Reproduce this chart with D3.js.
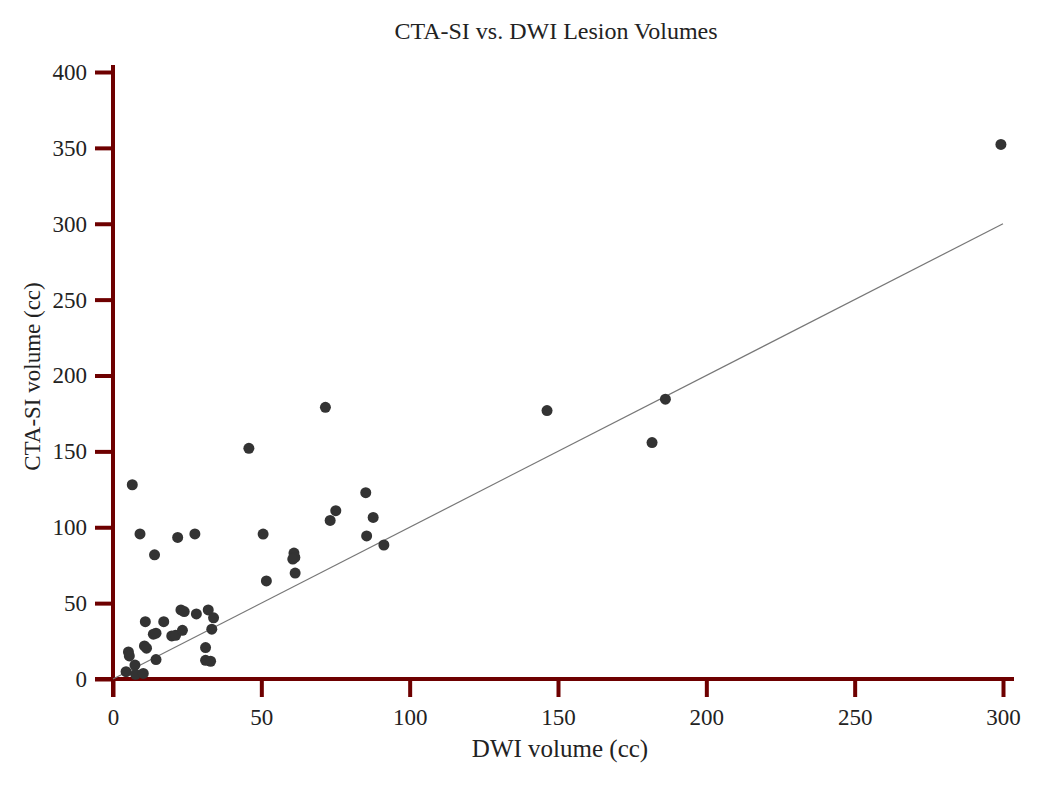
<!DOCTYPE html>
<html>
<head>
<meta charset="utf-8">
<script src="https://cdn.jsdelivr.net/npm/d3@7"></script>
<style>
  body { margin: 0; background: #fff; }
  text { font-family: "Liberation Serif", "Times New Roman", serif; fill: #222; }
</style>
</head>
<body>
<div id="graph"></div>
<script>
const width = 1050;
const height = 788;

// DWI volume (cc)
const dwi = [9.1, 21.8, 27.6, 50.6, 73.2, 85.5, 14.0, 61.0, 61.3, 60.6, 61.4,
  51.7, 22.9, 24.0, 28.1, 32.1, 33.9, 10.9, 17.1, 13.6, 14.5, 19.8, 21.1, 23.4,
  33.3, 31.2, 10.6, 11.3, 5.2, 5.5, 14.5, 31.2, 32.9, 4.4, 7.4, 7.6, 10.2,
  6.5, 45.8, 71.6, 85.2, 75.1, 87.7, 91.3, 299.3, 186.2, 181.7, 146.3];
// CTA-SI volume (cc)
const ctasi = [95.6, 93.3, 95.6, 95.5, 104.5, 94.3, 81.8, 83.0, 80.1, 79.0, 69.8,
  64.6, 45.5, 44.4, 42.9, 45.5, 40.3, 37.8, 37.8, 29.5, 30.2, 28.4, 28.8, 32.1,
  32.8, 20.7, 21.8, 20.3, 17.8, 15.2, 12.8, 12.3, 11.7, 4.8, 9.2, 3.1, 3.7,
  128.0, 152.0, 179.0, 122.8, 110.9, 106.5, 88.3, 352.3, 184.4, 155.8, 176.9];

const x_ticks = [0, 50, 100, 150, 200, 250, 300];
const y_ticks = [0, 50, 100, 150, 200, 250, 300, 350, 400];
const identity_line = [[0, 0], [300, 300]];

const axis_color = "#6e0000";

const svg = d3.select('#graph')
  .append('svg')
  .attr('width', width)
  .attr('height', height);

const x = d3.scaleLinear().domain([0, 300]).range([113, 1003]);
const y = d3.scaleLinear().domain([0, 400]).range([679, 72]);

// title + axis labels
svg.append("text")
  .attr("x", 556).attr("y", 39)
  .attr("text-anchor", "middle")
  .style("font-size", "24px")
  .text("CTA-SI vs. DWI Lesion Volumes");

svg.append("text")
  .attr("x", 560).attr("y", 757)
  .attr("text-anchor", "middle")
  .style("font-size", "25px")
  .text("DWI volume (cc)");

svg.append("text")
  .attr("transform", `translate(40, ${y(200) + 1}) rotate(-90)`)
  .attr("text-anchor", "middle")
  .style("font-size", "23px")
  .text("CTA-SI volume (cc)");

// axes
const xAxis = svg.append("g")
  .attr("transform", `translate(0, ${y(0)})`)
  .call(d3.axisBottom(x).tickValues(x_ticks).tickSize(18).tickSizeOuter(0).tickPadding(12));

const yAxis = svg.append("g")
  .attr("transform", `translate(${x(0)}, 0)`)
  .call(d3.axisLeft(y).tickValues(y_ticks).tickSize(18).tickSizeOuter(0).tickPadding(8));

[xAxis, yAxis].forEach(a => {
  a.select(".domain").remove();
  a.selectAll(".tick line").attr("stroke", axis_color).attr("stroke-width", 4);
  a.selectAll(".tick text")
    .style("font-family", '"Liberation Serif", "Times New Roman", serif')
    .style("font-size", "23px")
    .attr("fill", "#222");
});

// axis lines run a little past the ends
svg.append("line")
  .attr("x1", x(0) - 18).attr("x2", x(300) + 11)
  .attr("y1", y(0)).attr("y2", y(0))
  .attr("stroke", axis_color).attr("stroke-width", 4);
svg.append("line")
  .attr("x1", x(0)).attr("x2", x(0))
  .attr("y1", y(0) + 18).attr("y2", y(400) - 7)
  .attr("stroke", axis_color).attr("stroke-width", 4);

// line of identity
svg.append("path")
  .datum(identity_line)
  .attr("d", d3.line().x(d => x(d[0])).y(d => y(d[1])))
  .attr("stroke", "#777")
  .attr("stroke-width", 1.2)
  .attr("fill", "none");

// points
svg.append("g")
  .selectAll("circle")
  .data(dwi.map((d, i) => [d, ctasi[i]]))
  .join("circle")
  .attr("cx", d => x(d[0]))
  .attr("cy", d => y(d[1]))
  .attr("r", 5.5)
  .attr("fill", "#333");
</script>
</body>
</html>
